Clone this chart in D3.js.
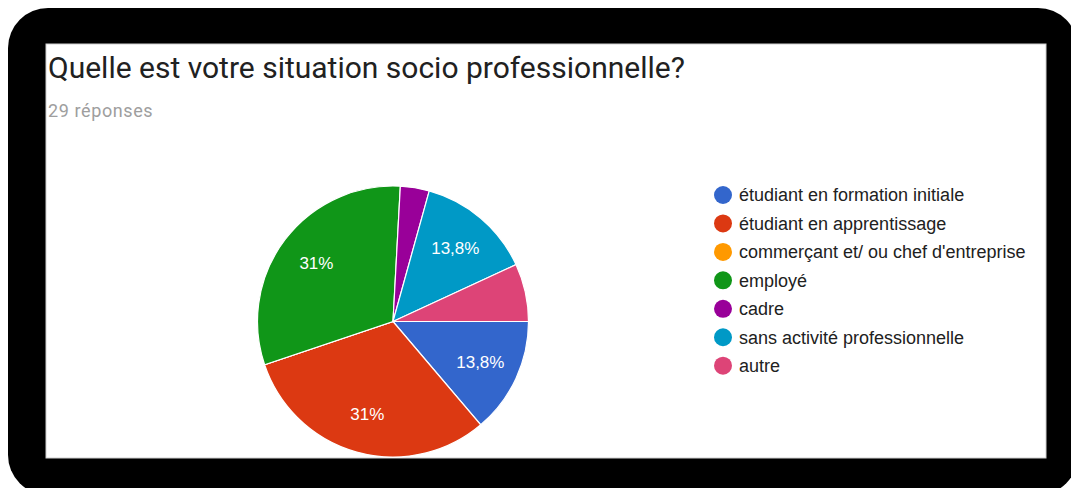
<!DOCTYPE html>
<html><head><meta charset="utf-8">
<script src="https://cdn.jsdelivr.net/npm/d3@7"></script>
<style>html,body{margin:0;padding:0;background:#fff;}svg{display:block;}</style>
</head><body>
<svg id="c" width="1071" height="488"></svg>
<script>
const title = "Quelle est votre situation socio professionnelle?";
const subtitle = "29 réponses";
const categories = ["étudiant en formation initiale","étudiant en apprentissage","commerçant et/ ou chef d'entreprise","employé","cadre","sans activité professionnelle","autre"];
const counts = [4, 9, 0, 9, 1, 4, 2];
const colors = ["#3366cc","#dc3912","#ff9900","#109618","#990099","#0099c6","#dd4477"];

const svg = d3.select("#c");
// frame
svg.append("rect").attr("x",8).attr("y",8).attr("width",1070).attr("height",487).attr("rx",40).attr("fill","#000");
svg.append("rect").attr("x",46).attr("y",44).attr("width",1000).attr("height",414).attr("fill","#fff").attr("stroke","#cfcfcf").attr("stroke-width",1);

svg.append("text").attr("x",48).attr("y",78).text(title)
  .attr("font-family","Roboto").attr("font-size",30).attr("fill","#212121");
svg.append("text").attr("x",48).attr("y",117).text(subtitle)
  .attr("font-family","Roboto").attr("font-size",18).attr("letter-spacing","0.6px").attr("fill","#9e9e9e");

const total = d3.sum(counts);
const cx = 393, cy = 321.5, r = 135.5;
const pie = d3.pie().sort(null).startAngle(Math.PI/2).endAngle(Math.PI/2 + 2*Math.PI);
const arcs = pie(counts);
const arc = d3.arc().innerRadius(0).outerRadius(r);
const labelArc = d3.arc().innerRadius(r*0.71).outerRadius(r*0.71);
const color = d3.scaleOrdinal().domain(categories).range(colors);
const g = svg.append("g").attr("transform",`translate(${cx},${cy})`);
g.selectAll("path").data(arcs).join("path")
  .attr("d",arc).attr("fill",(d,i)=>color(categories[i]))
  .attr("stroke","#fff").attr("stroke-width",1.2);
const fmt = v => { const p = v/total*100; const s = (Math.round(p*10)/10).toString().replace(".",","); return s + "%"; };
g.selectAll("text.lbl").data(arcs.filter(d=>d.data/total >= 0.1)).join("text")
  .attr("class","lbl")
  .attr("transform",d=>`translate(${labelArc.centroid(d)})`)
  .attr("text-anchor","middle").attr("dy","0.36em")
  .attr("font-family","Liberation Sans, Arial").attr("font-size",17).attr("fill","#fff")
  .text(d=>fmt(d.data));

const leg = svg.append("g");
const ly = d3.scalePoint().domain(categories).range([195, 365.7]);
const items = leg.selectAll("g").data(categories).join("g").attr("transform",d=>`translate(723,${ly(d)})`);
items.append("circle").attr("r",9).attr("fill",d=>color(d));
items.append("text").attr("x",16).attr("dy","0.36em").text(d=>d)
  .attr("font-family","Liberation Sans, Arial").attr("font-size",18).attr("fill","#212121");
</script>
</body></html>
